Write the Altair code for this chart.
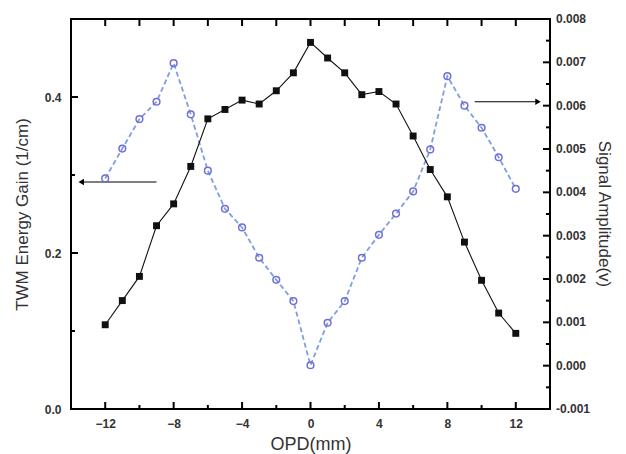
import altair as alt
import pandas as pd

opd = [-12, -11, -10, -9, -8, -7, -6, -5, -4, -3, -2, -1, 0, 1, 2, 3, 4, 5, 6, 7, 8, 9, 10, 11, 12]
gain = [0.108, 0.139, 0.170, 0.235, 0.263, 0.311, 0.372, 0.384, 0.396, 0.391, 0.408, 0.431, 0.470,
        0.450, 0.431, 0.403, 0.407, 0.391, 0.350, 0.307, 0.272, 0.214, 0.165, 0.123, 0.097]
signal = [0.00432, 0.00501, 0.00569, 0.00609, 0.00698, 0.00580, 0.00450, 0.00362, 0.00319, 0.00249,
          0.00198, 0.00149, 0.00001, 0.00099, 0.00149, 0.00249, 0.00302, 0.00351, 0.00402, 0.00499,
          0.00668, 0.00600, 0.00549, 0.00481, 0.00408]

x_major = [-12, -8, -4, 0, 4, 8, 12]
x_minor = [-10, -6, -2, 2, 6, 10]
left_major = [0.0, 0.2, 0.4]
left_minor = [0.1, 0.3]
right_major = [-0.001, 0.0, 0.001, 0.002, 0.003, 0.004, 0.005, 0.006, 0.007, 0.008]
right_minor = [-0.0005, 0.0005, 0.0015, 0.0025, 0.0035, 0.0045, 0.0055, 0.0065, 0.0075]

left_arrow = {"x": [-9.0], "x2": [-13.4], "y": [0.291]}
right_arrow = {"x": [9.6], "x2": [13.3], "s": [0.00609]}

X_DOM = [-14, 14]
L_DOM = [0, 0.5]
R_DOM = [-0.001, 0.008]

W, H = 479, 390
FONT = "Liberation Sans"
INK = "black"

df = pd.DataFrame({"opd": opd, "gain": gain, "signal": signal})

x_axis = alt.Axis(values=x_major, format="d", ticks=False, domain=False, grid=False,
                  labelFontSize=12, labelFontWeight="bold", labelColor="#333", labelPadding=9,
                  title="OPD(mm)", titleFontSize=18, titleFontWeight="normal", titleColor="#333",
                  titlePadding=6, labelFont=FONT, titleFont=FONT)
xsc = alt.Scale(domain=X_DOM, nice=False, zero=False)

left_axis = alt.Axis(values=left_major, format=".1f", ticks=False, domain=False, grid=False,
                     labelFontSize=12, labelFontWeight="bold", labelColor="#333", labelPadding=10,
                     title="TWM Energy Gain (1/cm)", titleFontSize=17, titleFontWeight="normal",
                     titleColor="#333", titlePadding=13, labelFont=FONT, titleFont=FONT)
ysc = alt.Scale(domain=L_DOM, nice=False, zero=False)


def X(field):
    return alt.X(field, type="quantitative", scale=xsc, axis=x_axis)


def Y(field):
    return alt.Y(field, type="quantitative", scale=ysc, axis=left_axis)


def to_left(f):
    # map a signal-amplitude value onto the shared vertical scale
    return f"(datum.{f} - ({R_DOM[0]})) / ({R_DOM[1]} - ({R_DOM[0]})) * ({L_DOM[1]} - {L_DOM[0]}) + {L_DOM[0]}"


def px_x(p):
    return p / W * (X_DOM[1] - X_DOM[0])


def px_y(p):
    return p / H * (L_DOM[1] - L_DOM[0])


def rule(data, width=2):
    return alt.Chart(pd.DataFrame(data)).mark_rule(color=INK, strokeWidth=width)


# plot frame
frame_v = rule({"x": X_DOM, "y": [L_DOM[0]] * 2, "y2": [L_DOM[1]] * 2}, 2).encode(
    x=X("x:Q"), y=Y("y:Q"), y2="y2:Q")
frame_h = rule({"y": L_DOM, "x": [X_DOM[0]] * 2, "x2": [X_DOM[1]] * 2}, 2).encode(
    y=Y("y:Q"), x=X("x:Q"), x2="x2:Q")

# left ticks (inward)
lt_major = rule({"v": left_major, "a": [X_DOM[0]] * len(left_major), "b": [X_DOM[0] + px_x(7)] * len(left_major)}).encode(
    y=Y("v:Q"), x=X("a:Q"), x2="b:Q")
lt_minor = rule({"v": left_minor, "a": [X_DOM[0]] * len(left_minor), "b": [X_DOM[0] + px_x(4)] * len(left_minor)}).encode(
    y=Y("v:Q"), x=X("a:Q"), x2="b:Q")

# bottom / top ticks (inward)
nM, nm = len(x_major), len(x_minor)
xb_major = rule({"v": x_major, "a": [L_DOM[0]] * nM, "b": [L_DOM[0] + px_y(7)] * nM}).encode(
    x=X("v:Q"), y=Y("a:Q"), y2="b:Q")
xb_minor = rule({"v": x_minor, "a": [L_DOM[0]] * nm, "b": [L_DOM[0] + px_y(4)] * nm}).encode(
    x=X("v:Q"), y=Y("a:Q"), y2="b:Q")
xt_all = rule({"v": x_major + x_minor, "a": [L_DOM[1]] * (nM + nm), "b": [L_DOM[1] - px_y(7)] * (nM + nm)}).encode(
    x=X("v:Q"), y=Y("a:Q"), y2="b:Q")

# right ticks (inward) on the signal axis
rM, rm = len(right_major), len(right_minor)
rt_major = rule({"v": right_major, "a": [X_DOM[1]] * rM, "b": [X_DOM[1] - px_x(7)] * rM}).transform_calculate(
    sy=to_left("v")).encode(y=Y("sy:Q"), x=X("a:Q"), x2="b:Q")
rt_minor = rule({"v": right_minor, "a": [X_DOM[1]] * rm, "b": [X_DOM[1] - px_x(4)] * rm}).transform_calculate(
    sy=to_left("v")).encode(y=Y("sy:Q"), x=X("a:Q"), x2="b:Q")

# right axis labels and title
r_labels = alt.Chart(pd.DataFrame({"v": right_major})).transform_calculate(
    sy=to_left("v"), lab="replace(format(datum.v, '.3f'), '\u2212', '-')").mark_text(
    align="left", baseline="middle", font=FONT, fontSize=12, fontWeight="bold", color="#333").encode(
    y=Y("sy:Q"), x=alt.value(W + 6), text="lab:N")
r_title = alt.Chart(pd.DataFrame({"t": ["Signal Amplitude(v)"]})).mark_text(
    angle=90, align="center", baseline="middle", font=FONT, fontSize=17, color="#333").encode(
    x=alt.value(W + 54), y=alt.value(H / 2), text="t:N")

# arrows
la_df = pd.DataFrame(left_arrow)
la_rule = alt.Chart(la_df).mark_rule(color=INK, strokeWidth=1.2).encode(x=X("x:Q"), x2="x2:Q", y=Y("y:Q"))
la_head = alt.Chart(la_df).mark_point(shape="triangle-left", filled=True, color=INK, size=40, opacity=1).encode(
    x=X("x2:Q"), y=Y("y:Q"))

ra_df = pd.DataFrame(right_arrow)
ra_rule = alt.Chart(ra_df).transform_calculate(sy=to_left("s")).mark_rule(color=INK, strokeWidth=1.2).encode(
    x=X("x:Q"), x2="x2:Q", y=Y("sy:Q"))
ra_head = alt.Chart(ra_df).transform_calculate(sy=to_left("s")).mark_point(
    shape="triangle-right", filled=True, color=INK, size=40, opacity=1).encode(x=X("x2:Q"), y=Y("sy:Q"))

# data series
sig_line = alt.Chart(df).transform_calculate(sy=to_left("signal")).mark_line(
    color="#7d9fe0", strokeWidth=1.8, strokeDash=[5, 3]).encode(x=X("opd:Q"), y=Y("sy:Q"))
sig_pts = alt.Chart(df).transform_calculate(sy=to_left("signal")).mark_point(
    shape="circle", filled=False, color="#6f6fd8", size=45, strokeWidth=1.5, opacity=1).encode(
    x=X("opd:Q"), y=Y("sy:Q"))

gain_line = alt.Chart(df).mark_line(color="#111", strokeWidth=1.1).encode(x=X("opd:Q"), y=Y("gain:Q"))
gain_pts = alt.Chart(df).mark_square(color="#111", size=48, opacity=1).encode(x=X("opd:Q"), y=Y("gain:Q"))

chart = alt.layer(
    gain_pts, frame_v, frame_h, lt_major, lt_minor, xb_major, xb_minor, xt_all, rt_major, rt_minor,
    r_labels, r_title, la_rule, la_head, ra_rule, ra_head, sig_line, sig_pts, gain_line,
).properties(width=W, height=H).configure_view(stroke="black", strokeWidth=2)

chart.save("out.html", embed_options={"renderer": "svg", "actions": False})
